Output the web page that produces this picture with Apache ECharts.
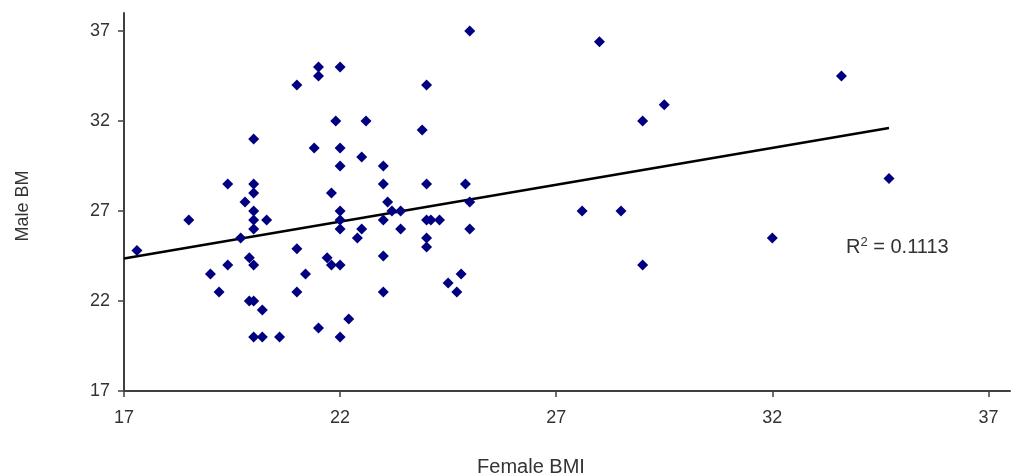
<!DOCTYPE html>
<html>
<head>
<meta charset="utf-8">
<script src="https://cdn.jsdelivr.net/npm/echarts@6/dist/echarts.min.js"></script>
<style>
  html, body { margin: 0; padding: 0; background: #fff; }
  #chart { width: 1021px; height: 475px; }
</style>
</head>
<body>
<div id="chart"></div>
<script>
// female BMI (x) vs male BMI (y)
var femaleBmi = [
  21, 21.5, 21.5, 22, 21.9, 22.6, 20, 21.4, 22, 22.5,
  22, 23, 19.4, 20, 20, 21.8, 23, 25, 24, 23.9,
  24, 24.9, 19.8, 20, 20, 20, 20.3, 18.5, 17.3, 19.7,
  19.9, 19.4, 20, 19, 19.2, 19.9, 20, 20.2, 20, 20.2,
  20.6, 21, 21.2, 21, 21.5, 22, 22, 22, 21.7, 21.8,
  22, 22.2, 22, 22.4, 22.5, 23.1, 23, 23.2, 23.4, 23,
  23, 23.4, 24, 24.1, 24.3, 24, 24, 24.5, 24.7, 24.8,
  25, 25, 28, 29.5, 29, 33.6, 34.7, 27.6, 28.5, 32,
  29
]
var maleBmi = [
  34, 35, 34.5, 35, 32, 32, 31, 30.5, 30.5, 30,
  29.5, 29.5, 28.5, 28.5, 28, 28, 28.5, 37, 34, 31.5,
  28.5, 28.5, 27.5, 27, 26.5, 26, 26.5, 26.5, 24.8, 25.5,
  24.4, 24, 24, 23.5, 22.5, 22, 22, 21.5, 20, 20,
  20, 24.9, 23.5, 22.5, 20.5, 27, 26.5, 26, 24.4, 24,
  24, 21, 20, 25.5, 26, 27.5, 26.5, 27, 27, 24.5,
  22.5, 26, 26.5, 26.5, 26.5, 25.5, 25, 23, 22.5, 23.5,
  27.5, 26, 36.4, 32.9, 32, 34.5, 28.8, 27, 27, 25.5,
  24
]
// linear trend line end points
var trendX = [17, 34.7]
var trendY = [24.36, 31.61]
var tickValues = [17, 22, 27, 32, 37]
var rSquared = '0.1113'

var points = femaleBmi.map(function (v, i) { return [v, maleBmi[i]] })
var trend = trendX.map(function (v, i) { return [v, trendY[i]] })

var axisColor = '#404040'
var font = 'Liberation Sans, Arial, sans-serif'

var chart = echarts.init(document.getElementById('chart'), null, { renderer: 'canvas' })
var option = {
  animation: false,
  backgroundColor: '#ffffff',
  grid: {
    left: 124,
    right: 11,
    top: 13,
    bottom: 84,
    outerBoundsMode: 'none'
  },
  xAxis: {
    type: 'value',
    min: 17,
    max: 37.5,
    interval: 5,
    name: 'Female BMI',
    nameLocation: 'middle',
    nameGap: 66,
    nameTextStyle: {
      fontFamily: font,
      fontSize: 20,
      color: '#333',
      padding: [0, 72, 0, 0]
    },
    axisLine: { lineStyle: { color: axisColor, width: 2 } },
    axisTick: {
      show: true,
      length: 6,
      customValues: tickValues,
      lineStyle: { color: axisColor, width: 1.5 }
    },
    axisLabel: {
      customValues: tickValues,
      margin: 18,
      fontFamily: font,
      fontSize: 18,
      color: '#333'
    },
    splitLine: { show: false }
  },
  yAxis: {
    type: 'value',
    min: 17,
    max: 38,
    interval: 5,
    name: 'Male BM',
    nameLocation: 'middle',
    nameGap: 92,
    nameTextStyle: {
      fontFamily: font,
      fontSize: 18,
      color: '#333',
      padding: [0, 8, 0, 0]
    },
    axisLine: { show: true, lineStyle: { color: axisColor, width: 2 } },
    axisTick: {
      show: true,
      length: 6,
      customValues: tickValues,
      lineStyle: { color: axisColor, width: 1.5 }
    },
    axisLabel: {
      customValues: tickValues,
      margin: 14,
      fontFamily: font,
      fontSize: 18,
      color: '#333'
    },
    splitLine: { show: false }
  },
  series: [
    {
      name: 'data',
      type: 'scatter',
      symbol: 'diamond',
      symbolSize: 11,
      itemStyle: { color: '#000080', opacity: 1 },
      data: points,
      z: 3
    },
    {
      name: 'trend',
      type: 'line',
      symbol: 'none',
      lineStyle: { color: '#000', width: 2.5 },
      data: trend,
      z: 2
    }
  ],
  graphic: [
    {
      type: 'text',
      left: 846,
      top: 236,
      style: {
        text: 'R{sup|2} = ' + rSquared,
        fontFamily: font,
        fontSize: 20,
        fill: '#333',
        rich: {
          sup: {
            fontFamily: font,
            fontSize: 13,
            fill: '#333',
            verticalAlign: 'top',
            padding: [0, 0, 9, 0]
          }
        }
      }
    }
  ]
}
chart.setOption(option)
</script>
</body>
</html>
